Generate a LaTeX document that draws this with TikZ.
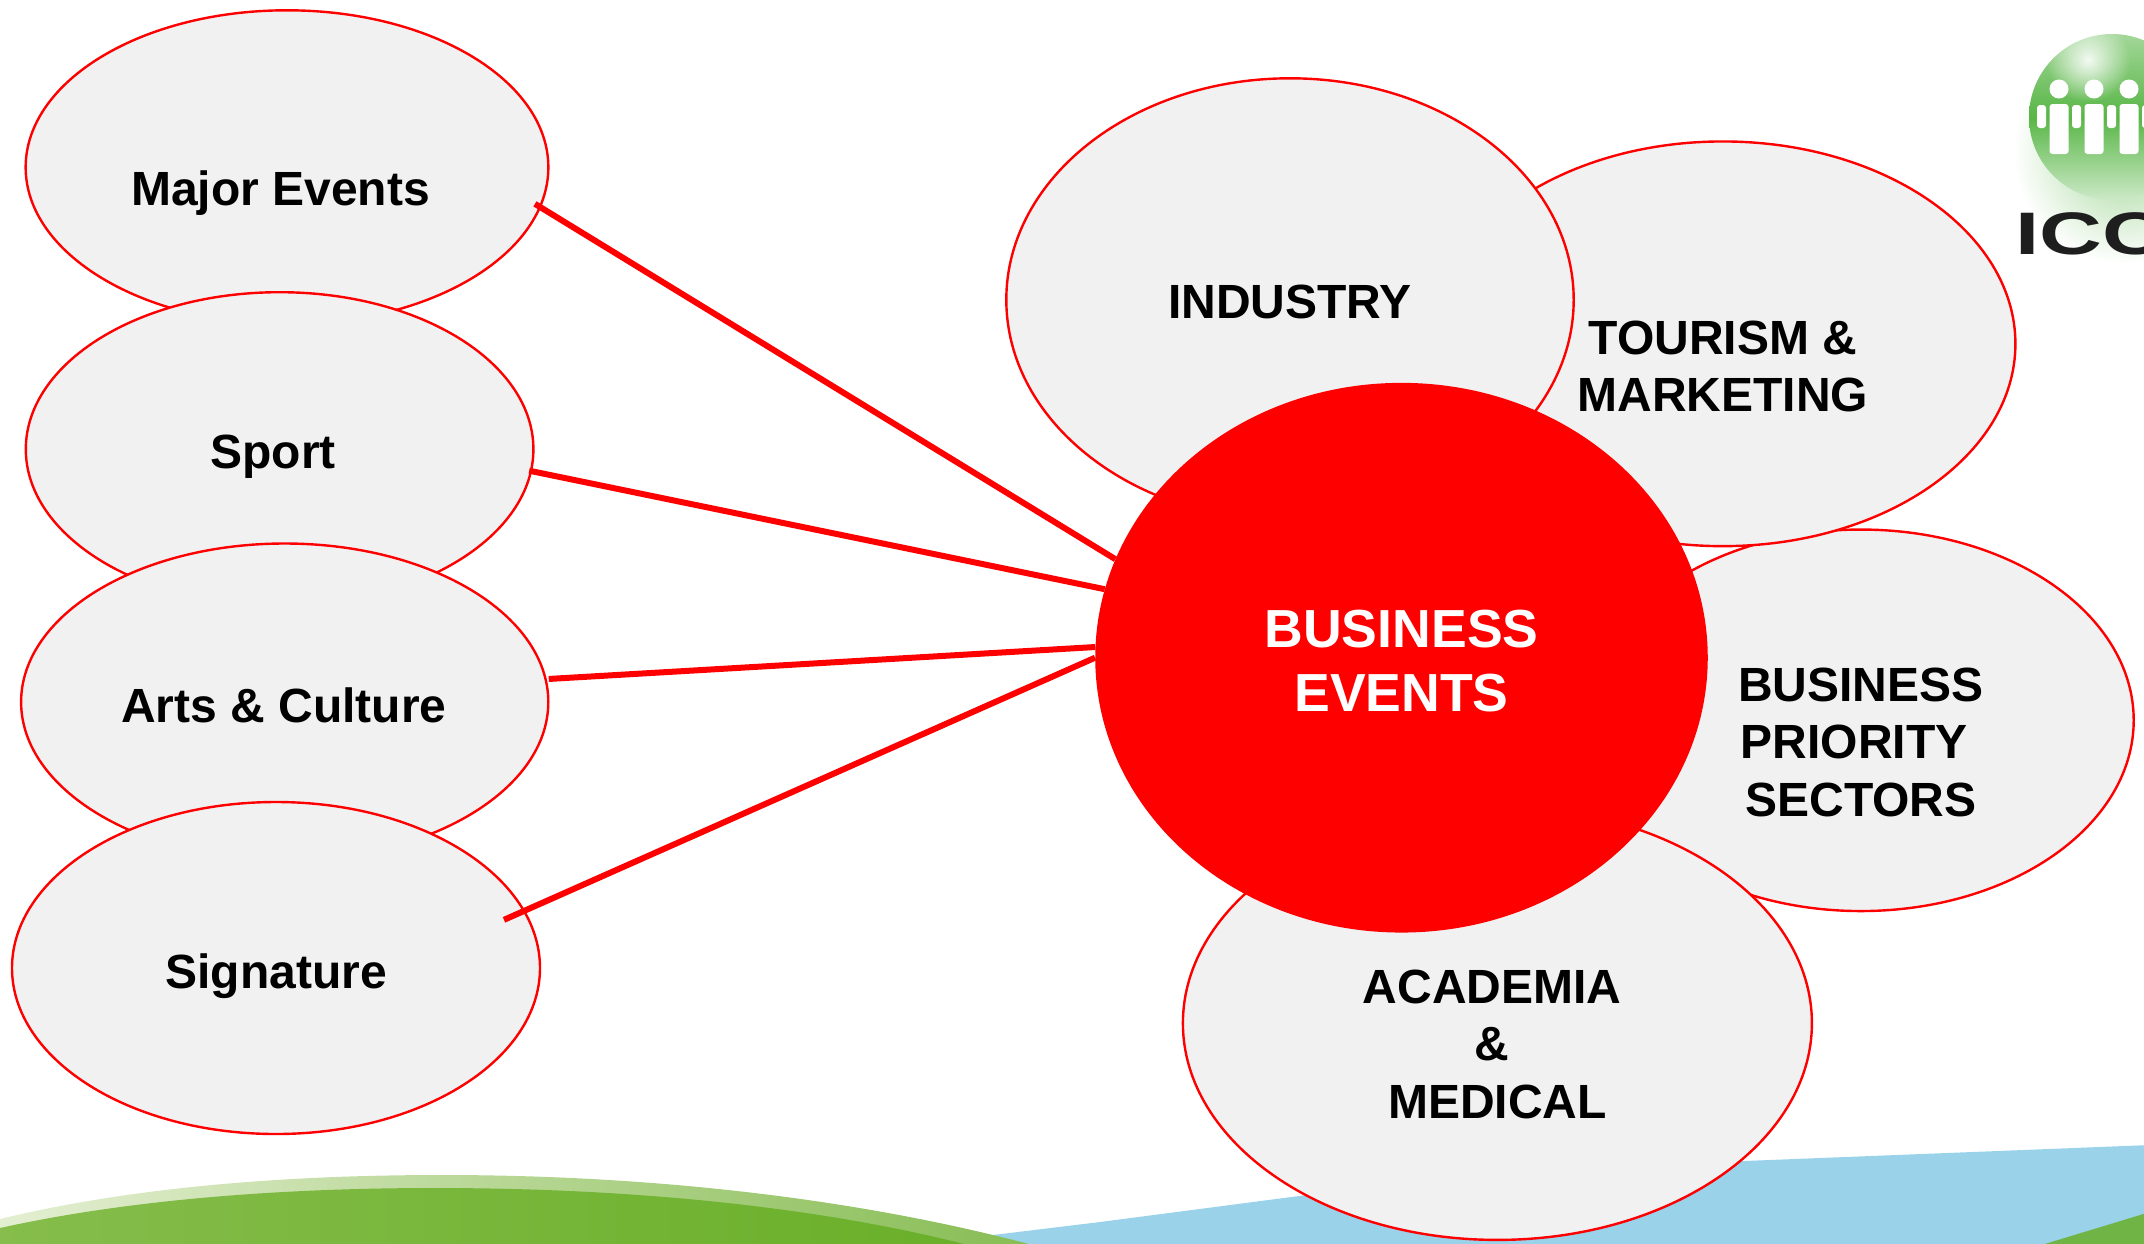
\documentclass[tikz,border=0pt]{standalone}
\usepackage{fontspec}
\setmainfont{Liberation Sans}
\usetikzlibrary{shapes.geometric,fadings}
\tikzfading[name=softspot,inner color=transparent!0,outer color=transparent!100]
\definecolor{bubble}{HTML}{F1F1F1}
\definecolor{skyblue}{HTML}{9AD2EA}
\definecolor{greenL}{HTML}{86BD4C}
\definecolor{greenM}{HTML}{77B73A}
\definecolor{greenR}{HTML}{69AF28}
\definecolor{bandL}{HTML}{E4EFD2}
\definecolor{bandM}{HTML}{B3D68C}
\definecolor{bandR}{HTML}{86BC52}
\definecolor{logoG}{HTML}{58B646}
\definecolor{iccblack}{HTML}{1E1E1E}
\tikzset{
  bub/.style={ellipse,draw=red,fill=bubble,line width=2.4pt,inner sep=0pt,minimum width=#1},
  hub/.style={ellipse,fill=red,draw=none,inner sep=0pt},
  lbl/.style={font=\fontsize{48}{57.5}\selectfont\bfseries,text=black,inner sep=0pt,align=center},
  hublbl/.style={font=\fontsize{53.6}{64}\selectfont\bfseries,text=white,inner sep=0pt,align=center},
  link/.style={draw=red,line width=6pt},
  person/.style={fill=white,rounded corners=3pt}
}
\begin{document}
\begin{tikzpicture}[x=1pt,y=-1pt]
\useasboundingbox (0,0) rectangle (2144,1243);
\begin{scope}
\clip (-5,-5) rectangle (2150,1250);
% landscape
\fill[skyblue] (978,1250) -- (993,1235) -- (1100,1222) -- (1299,1196) .. controls (1450,1176) and (1744,1161) .. (1744,1161) -- (2150,1145) -- (2150,1250) -- cycle;
\fill[color=greenR!85!skyblue] (2025,1250) -- (2150,1212) -- (2150,1250) -- cycle;
\shade[left color=bandL,middle color=bandM,right color=bandR] (-5,1220) -- (0,1219) .. controls (140,1185) and (300,1175) .. (442,1175) .. controls (660,1175) and (860,1200) .. (1025,1243) -- (1050,1250) -- (-5,1250) -- cycle;
\shade[left color=greenL,middle color=greenM,right color=greenR] (-5,1229) -- (0,1228) .. controls (140,1197) and (300,1188) .. (435,1188) .. controls (640,1188) and (820,1208) .. (960,1243) -- (990,1250) -- (-5,1250) -- cycle;
% logo
\shade[inner color=logoG!55!white,outer color=white] (2125,152) circle[radius=112];
\shade[top color=logoG!55!white,bottom color=logoG!30!white,middle color=logoG] (2112,117) circle[radius=83];
\fill[white,path fading=softspot,opacity=.9] (2088,60) circle[radius=42];
\foreach \px in {2059,2094,2129}{
  \fill[white] (\px,89) circle[radius=9.5];
  \fill[person] (\px-9.5,104) rectangle (\px+9.5,154);
  \fill[person] (\px-22,105) rectangle (\px-13,128);
}
\fill[person] (2142,105) rectangle (2151,128);
\end{scope}
\node[anchor=base west,inner sep=0pt,text=iccblack,font=\fontsize{60}{60}\selectfont\bfseries] (icc) at (2015,254) {\scalebox{1.45}[1]{ICC}};
% bubbles
\node[bub=522.7pt,minimum height=314pt] (major) at (287,167.3) {};
\node[bub=507.6pt,minimum height=314pt] (sport) at (279.6,449.2) {};
\node[bub=527.2pt,minimum height=317pt] (arts) at (284.7,702) {};
\node[bub=528pt,minimum height=332pt] (signature) at (276,968) {};
\node[bub=545.6pt,minimum height=381.5pt] (priority) at (1860.9,720.3) {};
\node[bub=585.2pt,minimum height=404.7pt] (tourism) at (1722.8,343.8) {};
\node[bub=567.4pt,minimum height=443pt] (industry) at (1290,299.8) {};
\node[bub=629pt,minimum height=433.4pt] (academia) at (1497.4,1023.2) {};
\node[hub,minimum width=612.5pt,minimum height=549.7pt] (events) at (1401.5,657.7) {};
% connectors
\draw[link,shorten <=-7pt] (major.-9.3) -- (events.161);
\draw[link,shorten <=-3pt] (sport.-5.5) -- (events.167);
\draw[link,shorten <=2pt] (arts.5) -- (events.178.5);
\draw[link,shorten <=-23pt] (signature.13.3) -- (events.180);
% labels
\node[lbl,anchor=base] (tmajor) at (280.5,205) {Major Events};
\node[lbl,anchor=base] (tsport) at (273,468) {Sport};
\node[lbl,anchor=base] (tarts) at (284,722) {Arts \& Culture};
\node[lbl,anchor=base] (tsig) at (276,988) {Signature};
\node[lbl,anchor=base] (tind) at (1290,318) {INDUSTRY};
\node[lbl] (ttour) at (1723,366.4) {TOURISM \&\\MARKETING};
\node[lbl] (tprio) at (1861,742) {BUSINESS\\PRIORITY\hspace*{14pt}\mbox{}\\SECTORS};
\node[lbl] (tacad) at (1492,1044) {ACADEMIA\\\&\\\hspace*{11pt}MEDICAL};
\node[hublbl] (thub) at (1401.5,661) {BUSINESS\\EVENTS};
\end{tikzpicture}
\end{document}
